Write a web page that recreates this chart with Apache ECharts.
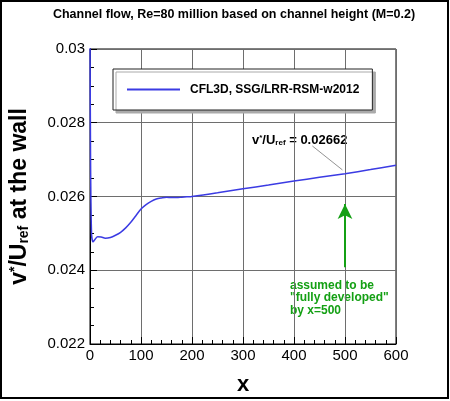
<!DOCTYPE html>
<html>
<head>
<meta charset="utf-8">
<script src="https://cdn.jsdelivr.net/npm/echarts@6/dist/echarts.min.js"></script>
<style>
  html, body { margin: 0; padding: 0; background: #fff; }
  #chart { width: 450px; height: 401px; }
</style>
</head>
<body>
<div id="chart"></div>
<script>
// values
const xValues = [0, 1, 3, 6, 10, 15, 22, 30, 40, 50, 60, 70, 80, 90, 100, 110, 120, 130, 140, 150,
    160, 170, 180, 190, 200, 250, 300, 350, 400, 450, 500, 550, 600];
const vStar = [0.0310, 0.0272, 0.02500, 0.02477, 0.02484, 0.02491, 0.02490, 0.02487, 0.02489, 0.02495,
    0.02503, 0.02515, 0.02530, 0.02548, 0.02566, 0.02578, 0.02587, 0.02593, 0.02596, 0.02598,
    0.02597, 0.02597, 0.02598, 0.02599, 0.02600, 0.02610, 0.02621, 0.02631, 0.02642, 0.02652,
    0.02662, 0.02673, 0.02685];
const xTicks = [0, 100, 200, 300, 400, 500, 600];
const yTicks = [0.022, 0.024, 0.026, 0.028, 0.03];
const seriesName = 'CFL3D, SSG/LRR-RSM-w2012';
const leader = [[436, 0.02737], [495, 0.02672]];
const arrow = [[500, 0.02408], [500, 0.0258]];

const FONT = '"Liberation Sans", Arial, Helvetica, sans-serif';

const chart = echarts.init(document.getElementById('chart'));
chart.setOption({
    animation: false,
    grid: {
        left: 82, right: 54, top: 49, bottom: 45,
        show: true, borderColor: '#000', borderWidth: 1
    },
    legend: {
        left: 113, top: 69,
        padding: [13, 13, 13, 14],
        icon: 'rect',
        itemWidth: 53, itemHeight: 2,
        backgroundColor: '#fff',
        borderColor: '#222', borderWidth: 1, borderRadius: 0,
        shadowColor: '#aaa', shadowBlur: 0, shadowOffsetX: 3, shadowOffsetY: 3,
        textStyle: { fontFamily: FONT, fontWeight: 'bold', fontSize: 12, color: '#000', padding: [0, 0, 0, 5], lineHeight: 15 },
        data: [seriesName]
    },
    xAxis: {
        type: 'value', min: xTicks[0], max: xTicks[xTicks.length - 1], interval: 100,
        name: 'x', nameLocation: 'middle', nameGap: 30,
        nameTextStyle: { fontFamily: FONT, fontWeight: 'bold', fontSize: 22, color: '#000' },
        axisLine: { show: true, lineStyle: { color: '#000', width: 1 } },
        axisTick: { show: true, inside: true, length: 7, lineStyle: { color: '#000' } },
        minorTick: { show: true, splitNumber: 5, length: 4, lineStyle: { color: '#000' } },
        axisLabel: { fontFamily: FONT, fontSize: 15, color: '#000', margin: 4 },
        splitLine: { show: true, lineStyle: { color: '#6e6e6e', width: 1 } }
    },
    yAxis: {
        type: 'value', min: yTicks[0], max: yTicks[yTicks.length - 1], interval: 0.002,
        name: '{b|v}{sup|*}{b|/U}{sub|ref}{b| at the wall}',
        nameLocation: 'middle', nameGap: 59, nameRotate: 90,
        nameTextStyle: {
            rich: {
                b: { fontFamily: FONT, fontWeight: 'bold', fontSize: 23, color: '#000' },
                sup: { fontFamily: FONT, fontWeight: 'bold', fontSize: 14, color: '#000', verticalAlign: 'top' },
                sub: { fontFamily: FONT, fontWeight: 'bold', fontSize: 14, color: '#000', verticalAlign: 'bottom' }
            }
        },
        axisLine: { show: true, lineStyle: { color: '#000', width: 1 } },
        axisTick: { show: true, inside: true, length: 7, lineStyle: { color: '#000' } },
        minorTick: { show: true, splitNumber: 4, length: 4, lineStyle: { color: '#000' } },
        axisLabel: {
            fontFamily: FONT, fontSize: 15, color: '#000', margin: 5,
            formatter: v => String(parseFloat(v.toFixed(4)))
        },
        splitLine: { show: true, lineStyle: { color: '#6e6e6e', width: 1 } }
    },
    series: [{
        name: seriesName,
        type: 'line',
        showSymbol: false,
        symbol: 'none',
        smooth: 0.3,
        data: xValues.map((x, i) => [x, vStar[i]]),
        lineStyle: { color: '#3b3be3', width: 1.5 },
        itemStyle: { color: '#3b3be3' },
        markLine: {
            silent: true,
            animation: false,
            label: { show: false },
            data: [
                [
                    { coord: leader[0], symbol: 'none', lineStyle: { color: '#777', width: 0.8, type: 'solid' } },
                    { coord: leader[1], symbol: 'none' }
                ],
                [
                    { coord: arrow[0], symbol: 'none', lineStyle: { color: '#14a014', width: 2, type: 'solid' } },
                    { coord: arrow[1], symbol: 'arrow', symbolSize: [11, 15] }
                ]
            ]
        }
    }],
    graphic: [
        {
            type: 'rect', silent: true, z: 100,
            shape: { x: 1, y: 1, width: 447, height: 397 },
            style: { fill: 'none', stroke: '#000', lineWidth: 2 }
        },
        {
            type: 'text', x: 234, y: 15,
            style: {
                text: 'Channel flow, Re=80 million based on channel height (M=0.2)',
                font: 'bold 12.5px ' + FONT, fill: '#000', align: 'center', verticalAlign: 'middle'
            }
        },
        {
            type: 'text', x: 252, y: 140,
            style: {
                text: '{b|v}{sup|*}{b|/U}{sub|ref}{b| = 0.02662}',
                align: 'left', verticalAlign: 'middle',
                rich: {
                    b: { font: 'bold 13px ' + FONT, fill: '#000' },
                    sup: { font: 'bold 8px ' + FONT, fill: '#000', verticalAlign: 'top' },
                    sub: { font: 'bold 8px ' + FONT, fill: '#000', verticalAlign: 'bottom' }
                }
            }
        },
        {
            type: 'text', x: 290, y: 279,
            style: {
                text: 'assumed to be\n"fully developed"\nby x=500',
                font: 'bold 12px ' + FONT, fill: '#14a014', lineHeight: 12.5,
                align: 'left', verticalAlign: 'top'
            }
        }
    ]
});
</script>
</body>
</html>
